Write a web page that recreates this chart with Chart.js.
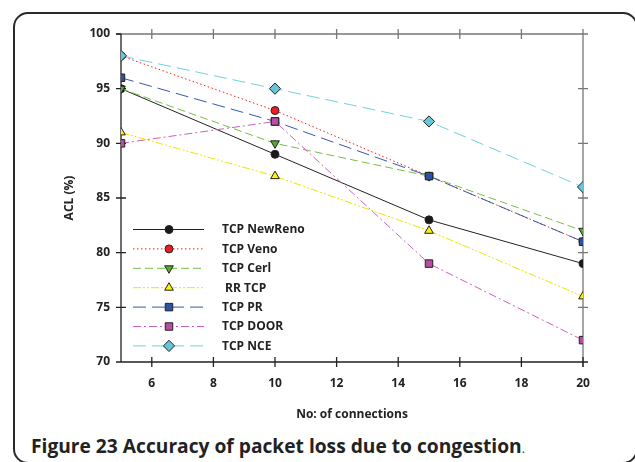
<!DOCTYPE html>
<html>
<head>
<meta charset="utf-8">
<script src="https://cdn.jsdelivr.net/npm/chart.js@4/dist/chart.umd.min.js"></script>
<style>
  html, body { margin: 0; padding: 0; background: #fff; }
  body { width: 635px; height: 462px; position: relative; overflow: hidden; }
  #frame {
    position: absolute; left: 13px; top: 12px; width: 625px; height: 452px;
    box-sizing: border-box; border: 2px solid #2a2a2a; border-radius: 15px;
  }
  #wrap { position: absolute; left: 0; top: 0; width: 635px; height: 430px; }
  #caption {
    position: absolute; left: 31px; top: 431.5px; white-space: nowrap;
    font-family: "Open Sans", sans-serif; font-weight: bold; font-size: 19.2px; color: #222;
  }
  #caption .dot { font-weight: normal; font-size: 12px; }
</style>
</head>
<body>
<div id="frame"></div>
<div id="wrap"><canvas id="aclChart" width="635" height="430"></canvas></div>
<div id="caption">Figure 23 Accuracy of packet loss due to congestion<span class="dot">.</span></div>
<script>
// Number of connections on the x axis
const connections = [5, 10, 15, 20];
const xTickValues = [6, 8, 10, 12, 14, 16, 18, 20];
const yTickValues = [70, 75, 80, 85, 90, 95, 100];

// ACL (%) per protocol
const tcpNewReno = [95, 89, 83, 79];
const tcpVeno = [98, 93, 87, 81];
const tcpCerl = [95, 90, 87, 82];
const rrTcp = [91, 87, 82, 76];
const tcpPR = [96, 92, 87, 81];
const tcpDoor = [90, 92, 79, 72];
const tcpNCE = [98, 95, 92, 86];

const FONT = '"Open Sans", sans-serif';

function series(label, values, line, fill, style, radius, dash, rotation) {
  return {
    label: label,
    data: connections.map((x, i) => ({ x: x, y: values[i] })),
    borderColor: line,
    borderWidth: 1,
    borderDash: dash,
    backgroundColor: fill,
    pointBackgroundColor: fill,
    pointBorderColor: '#222',
    pointBorderWidth: 1,
    pointStyle: style,
    pointRadius: radius,
    pointRotation: rotation || 0,
    tension: 0
  };
}

const datasets = [
  series('TCP NewReno', tcpNewReno, '#222222', '#1a1a1a', 'circle', 4, []),
  series('TCP Veno', tcpVeno, '#ff1a1a', '#ee1c24', 'circle', 4, [1.5, 2.5]),
  series('TCP Cerl', tcpCerl, '#72c045', '#58a832', 'triangle', 5, [8, 4], 180),
  series(' RR TCP', rrTcp, '#f0e400', '#fff200', 'triangle', 5, [8, 2, 2, 2, 2, 2]),
  series('TCP PR', tcpPR, '#3858a8', '#2d52a0', 'rect', 5.3, [13, 6]),
  series('TCP DOOR', tcpDoor, '#cc60c0', '#b84ea4', 'rect', 5.3, [8, 3, 2, 3]),
  series('TCP NCE', tcpNCE, '#70d0e0', '#66c6d8', 'rectRot', 5.6, [13, 6])
];
// later series sit on top where points coincide
datasets.forEach((d, i) => { d.order = datasets.length - i; });

// box frame with ticks crossing the axis lines
const framePlugin = {
  id: 'frame',
  beforeDatasetsDraw(chart) {
    const ctx = chart.ctx;
    const { left: L, right: R, top: T, bottom: B } = chart.chartArea;
    const xs = chart.scales.x, ys = chart.scales.y;
    ctx.save();
    ctx.lineWidth = 1.3;
    ctx.setLineDash([]);

    ctx.strokeStyle = '#777';
    ctx.beginPath();
    ctx.moveTo(L - 5, T); ctx.lineTo(R + 5, T);
    ctx.moveTo(R, T - 5); ctx.lineTo(R, B + 5);
    xTickValues.forEach(v => {
      const px = xs.getPixelForValue(v);
      ctx.moveTo(px, T - 5); ctx.lineTo(px, T + 5);
    });
    yTickValues.slice(1, -1).forEach(v => {
      const py = ys.getPixelForValue(v);
      ctx.moveTo(R - 5, py); ctx.lineTo(R + 5, py);
    });
    ctx.stroke();

    ctx.strokeStyle = '#222';
    ctx.beginPath();
    ctx.moveTo(L, T); ctx.lineTo(L, B);
    ctx.moveTo(L - 5, B); ctx.lineTo(R + 5, B);
    xTickValues.forEach(v => {
      const px = xs.getPixelForValue(v);
      ctx.moveTo(px, B - 5); ctx.lineTo(px, B + 5);
    });
    yTickValues.forEach((v, i) => {
      const py = ys.getPixelForValue(v);
      const inner = (i === 0 || i === yTickValues.length - 1) ? 0 : 5;
      ctx.moveTo(L - 5, py); ctx.lineTo(L + inner, py);
    });
    ctx.stroke();
    ctx.restore();
  },
  afterDraw(chart) {
    // legend block inside the plot
    const ctx = chart.ctx;
    const x0 = 133, x1 = 204, xm = 169, xt = 222;
    ctx.save();
    chart.data.datasets.forEach((d, i) => {
      const y = 229.5 + i * 19.4;
      ctx.strokeStyle = d.borderColor;
      ctx.lineWidth = 1;
      ctx.setLineDash(d.borderDash);
      ctx.beginPath();
      ctx.moveTo(x0, y); ctx.lineTo(x1, y);
      ctx.stroke();
      ctx.setLineDash([]);
      ctx.fillStyle = d.pointBackgroundColor;
      ctx.strokeStyle = d.pointBorderColor;
      Chart.helpers.drawPoint(ctx, {
        pointStyle: d.pointStyle,
        rotation: d.pointRotation,
        radius: d.pointRadius,
        borderWidth: 1
      }, xm, y);
      ctx.fillStyle = '#222';
      ctx.font = 'bold 12px ' + FONT;
      ctx.textAlign = 'left';
      ctx.textBaseline = 'middle';
      ctx.fillText(d.label, xt, y + 0.5);
    });
    ctx.restore();
  }
};

new Chart(document.getElementById('aclChart'), {
  type: 'line',
  data: { datasets: datasets },
  plugins: [framePlugin],
  options: {
    responsive: false,
    animation: false,
    layout: { padding: { left: 58, right: 52, top: 34, bottom: 0 } },
    plugins: { legend: { display: false }, tooltip: { enabled: false } },
    scales: {
      x: {
        type: 'linear',
        min: 5,
        max: 20,
        afterBuildTicks: scale => { scale.ticks = xTickValues.map(v => ({ value: v })); },
        afterFit: scale => { scale.height = 68; },
        grid: { display: false, drawTicks: false },
        border: { display: false },
        ticks: { padding: 14, color: '#222', font: { family: FONT, size: 12, weight: 'bold' } },
        title: {
          display: true,
          text: 'No: of connections',
          color: '#222',
          padding: { top: 8, bottom: 8 },
          font: { family: FONT, size: 12, weight: 'bold' }
        }
      },
      y: {
        min: 70,
        max: 100,
        afterBuildTicks: scale => { scale.ticks = yTickValues.map(v => ({ value: v })); },
        afterFit: scale => { scale.width = 63; },
        grid: { display: false, drawTicks: false },
        border: { display: false },
        ticks: { padding: 11, color: '#222', font: { family: FONT, size: 12, weight: 'bold' } },
        title: {
          display: true,
          text: 'ACL (%)',
          color: '#222',
          padding: { top: 4, bottom: 4 },
          font: { family: FONT, size: 12, weight: 'bold' }
        }
      }
    }
  }
});
</script>
</body>
</html>
